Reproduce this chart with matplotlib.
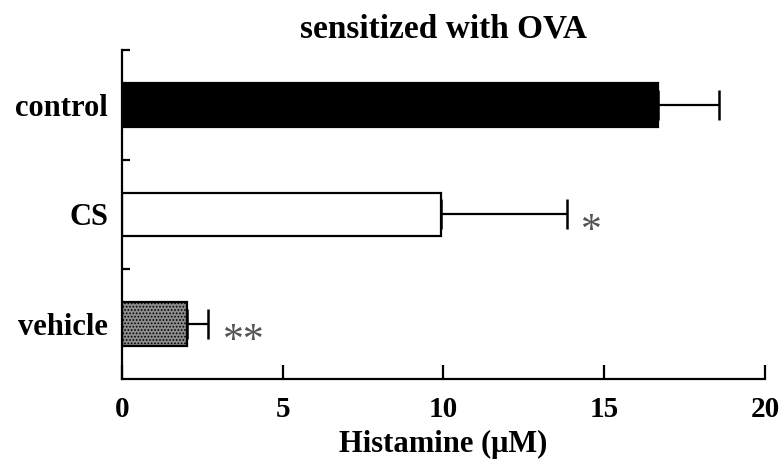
import numpy as np
import matplotlib
matplotlib.use("Agg")
import matplotlib.pyplot as plt

# ── data ──────────────────────────────────────────────────────────────────────
groups = ["control", "CS", "vehicle"]
histamine = [16.67, 9.91, 2.01]
sem = [1.89, 3.93, 0.67]
marks = ["", "*", "**"]

plt.rcParams["font.family"] = ["Liberation Serif", "DejaVu Serif"]
plt.rcParams["hatch.color"] = "#4a4a4a"
plt.rcParams["hatch.linewidth"] = 0.8

fig = plt.figure(figsize=(7.79, 4.66), dpi=100)
ax = fig.add_axes([0.1566, 0.1867, 0.8254, 0.706])

# bars drawn top to bottom
ypos = [2.5, 1.5, 0.5]
faces = ["black", "white", "#8c8c8c"]
hatches = [None, None, "....."]
for y, v, e, fc, h in zip(ypos, histamine, sem, faces, hatches):
    ax.barh(y, v, height=0.4, color=fc, edgecolor="black", linewidth=1.6,
            hatch=h, zorder=2)
    ax.errorbar(v, y, xerr=[[0], [e]], fmt="none", ecolor="black",
                elinewidth=1.6, capsize=11, capthick=1.8, zorder=3)

# significance marks
for y, v, e, m in zip(ypos, histamine, sem, marks):
    if m:
        ax.text(v + e + 0.45, y - 0.25, m, fontsize=30, color="#555555",
                ha="left", va="baseline", fontweight="normal")

ax.set_xlim(0, 20)
ax.set_ylim(0, 3)
ax.set_xticks([0, 5, 10, 15, 20])
ax.set_yticks(ypos)
ax.set_yticklabels(groups)
ax.set_yticks([1, 2, 3], minor=True)

ax.tick_params(axis="x", direction="in", length=10, width=1.6, pad=12,
               labelsize=21)
ax.tick_params(axis="y", which="major", length=0, pad=10, labelsize=22)
ax.tick_params(axis="y", which="minor", direction="in", length=6, width=1.6)
for lbl in ax.get_xticklabels() + ax.get_yticklabels():
    lbl.set_fontweight("bold")

for side in ["top", "right"]:
    ax.spines[side].set_visible(False)
for side in ["left", "bottom"]:
    ax.spines[side].set_linewidth(1.6)

ax.set_xlabel("Histamine (\u03bcM)", fontsize=22, fontweight="bold", labelpad=5)
ax.set_title("sensitized with OVA", fontsize=24, fontweight="bold", pad=9)

fig.savefig("out.png", dpi=100)
